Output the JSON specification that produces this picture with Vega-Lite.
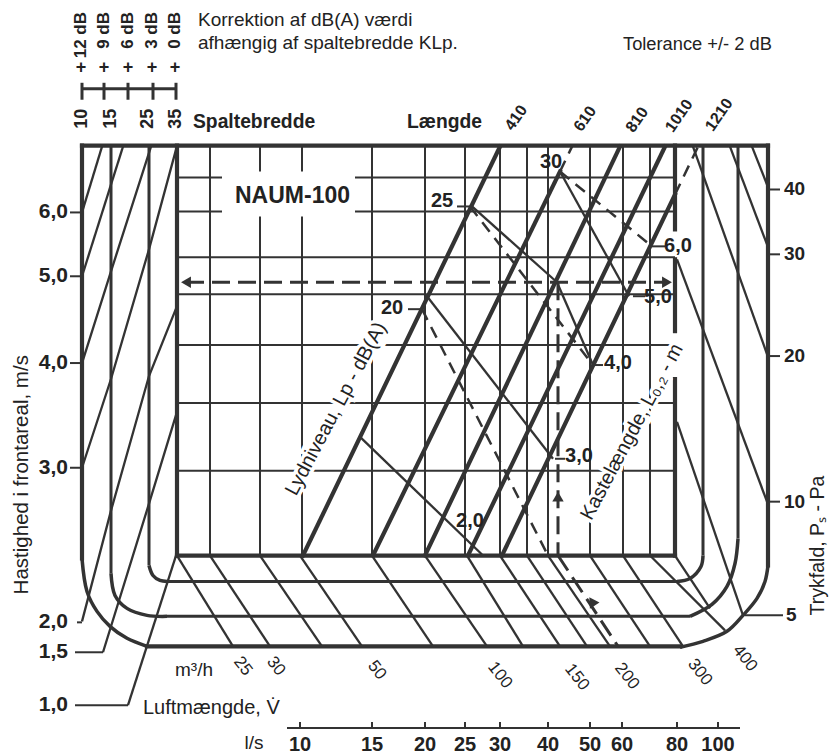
{
"$schema":"https://vega.github.io/schema/vega-lite/v6.json",
"width":837,"height":756,"padding":0,
"autosize":{"type":"fit","contains":"padding"},
"background":"white",
"config":{"view":{"stroke":null},"text":{"font":"Liberation Sans","color":"#222"}},
"encoding":{
 "x":{"field":"x","type":"quantitative","scale":{"domain":[0,83.7],"nice":false,"zero":false},"axis":null},
 "y":{"field":"y","type":"quantitative","scale":{"domain":[0,75.6],"nice":false,"zero":false,"reverse":true},"axis":null}
},
"datasets":{
 "grid":[
  {"x":21.0,"y":14.6,"x2":21.0,"y2":55.7},{"x":26.0,"y":14.6,"x2":26.0,"y2":55.7},{"x":30.2,"y":14.6,"x2":30.2,"y2":55.7},
  {"x":37.2,"y":14.6,"x2":37.2,"y2":55.7},{"x":42.5,"y":14.6,"x2":42.5,"y2":55.7},{"x":46.5,"y":14.6,"x2":46.5,"y2":55.7},
  {"x":50.0,"y":14.6,"x2":50.0,"y2":55.7},{"x":52.7,"y":14.6,"x2":52.7,"y2":55.7},{"x":54.8,"y":14.6,"x2":54.8,"y2":55.7},
  {"x":59.0,"y":14.6,"x2":59.0,"y2":55.7},{"x":62.3,"y":14.6,"x2":62.3,"y2":55.7},{"x":65.0,"y":14.6,"x2":65.0,"y2":55.7},
  {"x":17.7,"y":17.8,"x2":67.5,"y2":17.8},{"x":17.7,"y":21.2,"x2":67.5,"y2":21.2},{"x":17.7,"y":25.8,"x2":67.5,"y2":25.8},
  {"x":17.7,"y":29.5,"x2":67.5,"y2":29.5},{"x":17.7,"y":34.6,"x2":67.5,"y2":34.6},{"x":17.7,"y":40.4,"x2":67.5,"y2":40.4},
  {"x":17.7,"y":47.2,"x2":67.5,"y2":47.2},
  {"x":7.0,"y":21.3,"x2":8.2,"y2":21.3},{"x":7.0,"y":27.7,"x2":8.2,"y2":27.7},{"x":7.0,"y":36.4,"x2":8.2,"y2":36.4},{"x":7.0,"y":46.9,"x2":8.2,"y2":46.9},
  {"x":7.7,"y":62.4,"x2":8.2,"y2":62.4},{"x":7.5,"y":65.4,"x2":10.3,"y2":65.4},{"x":7.5,"y":70.7,"x2":12.8,"y2":70.7},
  {"x":76.8,"y":19.0,"x2":78.0,"y2":19.0},{"x":76.8,"y":25.5,"x2":78.0,"y2":25.5},{"x":76.8,"y":35.7,"x2":78.0,"y2":35.7},{"x":76.8,"y":50.3,"x2":78.0,"y2":50.3},
  {"x":74.5,"y":61.7,"x2":78.3,"y2":61.7},
  {"x":28.7,"y":73.0,"x2":74.0,"y2":73.0},
  {"x":30.0,"y":72.4,"x2":30.0,"y2":73.0},{"x":37.2,"y":72.4,"x2":37.2,"y2":73.0},{"x":42.5,"y":72.4,"x2":42.5,"y2":73.0},
  {"x":46.5,"y":72.4,"x2":46.5,"y2":73.0},{"x":50.0,"y":72.4,"x2":50.0,"y2":73.0},{"x":54.8,"y":72.4,"x2":54.8,"y2":73.0},
  {"x":59.0,"y":72.4,"x2":59.0,"y2":73.0},{"x":62.2,"y":72.4,"x2":62.2,"y2":73.0},{"x":67.7,"y":72.4,"x2":67.7,"y2":73.0},
  {"x":71.8,"y":72.4,"x2":71.8,"y2":73.0},
  {"x":40.8,"y":31.0,"x2":42.2,"y2":31.0},{"x":45.7,"y":20.7,"x2":47.0,"y2":20.7},{"x":65.2,"y":24.7,"x2":66.5,"y2":24.7},
  {"x":63.3,"y":29.7,"x2":64.5,"y2":29.7},{"x":59.3,"y":36.6,"x2":60.3,"y2":36.6},{"x":55.5,"y":46.0,"x2":56.5,"y2":46.0}
 ],
 "band":[
  {"x":17.7,"y":55.7,"x2":23.3,"y2":64.8},{"x":21.0,"y":55.7,"x2":27.0,"y2":64.8},{"x":26.0,"y":55.7,"x2":32.2,"y2":64.8},
  {"x":30.0,"y":55.7,"x2":36.2,"y2":64.8},{"x":37.2,"y":55.7,"x2":43.3,"y2":64.8},{"x":42.5,"y":55.7,"x2":48.7,"y2":64.8},
  {"x":46.7,"y":55.7,"x2":52.3,"y2":64.8},{"x":50.0,"y":55.7,"x2":56.0,"y2":64.8},{"x":52.7,"y":55.7,"x2":58.7,"y2":64.8},
  {"x":54.8,"y":55.7,"x2":61.0,"y2":64.8},{"x":59.0,"y":55.7,"x2":65.0,"y2":64.8},{"x":62.3,"y":55.7,"x2":68.3,"y2":64.8},
  {"x":65.0,"y":55.7,"x2":72.5,"y2":63.2},{"x":67.5,"y":55.7,"x2":71.0,"y2":61.0},
  {"x":69.3,"y":14.7,"x2":76.7,"y2":35.5},{"x":73.0,"y":14.7,"x2":76.7,"y2":24.5},{"x":75.2,"y":14.7,"x2":76.7,"y2":18.5},
  {"x":67.7,"y":26.0,"x2":76.7,"y2":50.3},{"x":67.7,"y":42.3,"x2":74.3,"y2":61.7},
  {"x":36.0,"y":43.8,"x2":48.2,"y2":55.6},{"x":42.7,"y":29.7,"x2":55.3,"y2":46.0},
  {"x":47.2,"y":20.7,"x2":55.7,"y2":28.3},{"x":55.7,"y":28.3,"x2":59.3,"y2":36.6},
  {"x":56.0,"y":17.2,"x2":62.9,"y2":29.7}
 ],
 "mid":[
  {"x":11.1,"y":14.6,"x2":11.1,"y2":57.5},{"x":14.9,"y":14.6,"x2":14.9,"y2":56.7},
  {"x":70.3,"y":14.6,"x2":70.3,"y2":55.7},{"x":73.8,"y":14.6,"x2":73.8,"y2":54.0},
  {"x":16.7,"y":58.3,"x2":67.7,"y2":58.3},{"x":16.7,"y":61.8,"x2":69.0,"y2":61.8},
  {"x":8.2,"y":8.9,"x2":17.7,"y2":8.9},
  {"x":8.2,"y":8.3,"x2":8.2,"y2":10.0},{"x":10.4,"y":8.3,"x2":10.4,"y2":10.0},{"x":12.8,"y":8.3,"x2":12.8,"y2":10.0},
  {"x":15.3,"y":8.3,"x2":15.3,"y2":10.0},{"x":17.6,"y":8.3,"x2":17.6,"y2":10.0}
 ],
 "frame":[
  {"x":8.2,"y":14.6,"x2":76.8,"y2":14.6},{"x":8.2,"y":14.6,"x2":8.2,"y2":56.0},{"x":14.7,"y":64.8,"x2":68.0,"y2":64.8},
  {"x":76.8,"y":14.6,"x2":76.8,"y2":56.7},{"x":17.7,"y":14.6,"x2":17.7,"y2":55.7},{"x":17.7,"y":55.7,"x2":67.5,"y2":55.7},
  {"x":67.5,"y":14.6,"x2":67.5,"y2":23.0},{"x":67.5,"y":26.0,"x2":67.5,"y2":33.2},{"x":67.5,"y":38.0,"x2":67.5,"y2":55.7},
  {"x":30.3,"y":55.7,"x2":50.0,"y2":14.7},{"x":37.3,"y":55.7,"x2":56.0,"y2":17.2},{"x":42.5,"y":55.7,"x2":62.0,"y2":14.7},
  {"x":46.8,"y":55.7,"x2":66.5,"y2":14.7},{"x":50.2,"y":55.7,"x2":67.5,"y2":19.5}
 ],
 "curves":[
  {"id":"a","i":0,"x":8.2,"y":56.0},{"id":"a","i":1,"x":8.7,"y":59.3},{"id":"a","i":2,"x":9.7,"y":61.3},{"id":"a","i":3,"x":11.0,"y":62.8},{"id":"a","i":4,"x":12.7,"y":64.0},{"id":"a","i":5,"x":14.7,"y":64.8},
  {"id":"b","i":0,"x":68.0,"y":64.9},{"id":"b","i":1,"x":70.3,"y":64.3},{"id":"b","i":2,"x":72.7,"y":63.3},{"id":"b","i":3,"x":74.3,"y":61.7},{"id":"b","i":4,"x":75.7,"y":60.0},{"id":"b","i":5,"x":76.5,"y":58.3},{"id":"b","i":6,"x":76.8,"y":56.7},
  {"id":"c","i":0,"x":11.1,"y":57.5},{"id":"c","i":1,"x":11.5,"y":59.7},{"id":"c","i":2,"x":12.7,"y":61.0},{"id":"c","i":3,"x":14.7,"y":61.7},{"id":"c","i":4,"x":16.7,"y":61.8},
  {"id":"d","i":0,"x":14.9,"y":56.7},{"id":"d","i":1,"x":15.3,"y":57.7},{"id":"d","i":2,"x":16.0,"y":58.2},{"id":"d","i":3,"x":16.7,"y":58.3},
  {"id":"e","i":0,"x":70.3,"y":55.7},{"id":"e","i":1,"x":70.1,"y":56.8},{"id":"e","i":2,"x":69.0,"y":58.0},{"id":"e","i":3,"x":67.7,"y":58.3},
  {"id":"f","i":0,"x":73.8,"y":54.0},{"id":"f","i":1,"x":73.5,"y":56.5},{"id":"f","i":2,"x":72.7,"y":58.8},{"id":"f","i":3,"x":71.2,"y":60.6},{"id":"f","i":4,"x":69.0,"y":61.8}
 ],
 "vel":[
  {"id":"v6","i":0,"x":8.2,"y":21.3},{"id":"v6","i":1,"x":10.2,"y":14.7},
  {"id":"v5","i":0,"x":8.2,"y":27.7},{"id":"v5","i":1,"x":12.3,"y":14.7},
  {"id":"v4","i":0,"x":8.2,"y":36.4},{"id":"v4","i":1,"x":11.1,"y":27.2},{"id":"v4","i":2,"x":15.1,"y":14.7},
  {"id":"v3","i":0,"x":8.2,"y":46.9},{"id":"v3","i":1,"x":11.1,"y":38.0},{"id":"v3","i":2,"x":14.9,"y":25.0},{"id":"v3","i":3,"x":17.6,"y":15.0},
  {"id":"v2","i":0,"x":8.2,"y":62.3},{"id":"v2","i":1,"x":11.1,"y":51.2},{"id":"v2","i":2,"x":14.9,"y":37.7},{"id":"v2","i":3,"x":17.7,"y":30.7},
  {"id":"v15","i":0,"x":10.3,"y":65.4},{"id":"v15","i":1,"x":14.9,"y":50.5},{"id":"v15","i":2,"x":17.7,"y":41.3},
  {"id":"v1","i":0,"x":12.8,"y":70.7},{"id":"v1","i":1,"x":17.6,"y":55.7}
 ],
 "dsh":[
  {"x":42.2,"y":31.0,"x2":54.8,"y2":55.7},{"x":47.0,"y":20.7,"x2":59.3,"y2":36.6},{"x":56.0,"y":17.2,"x2":65.2,"y2":24.7},
  {"x":56.0,"y":17.2,"x2":57.2,"y2":14.7},{"x":67.5,"y":19.5,"x2":69.8,"y2":14.7}
 ],
 "flow":[
  {"x":18.6,"y":28.3,"x2":66.8,"y2":28.3},{"x":55.8,"y":28.3,"x2":55.8,"y2":55.7},{"x":55.8,"y":55.7,"x2":61.8,"y2":64.8}
 ],
 "arrL":[{"x":18.6,"y":28.3}],
 "arrR":[{"x":66.7,"y":28.3}],
 "arrU":[{"x":55.8,"y":49.8}],
 "arrD":[{"x":59.2,"y":60.3}],
 "mask":[{"x":22.2,"x2":35.5,"y":17.2,"y2":21.7}],
 "tReg":[
  {"x":19.8,"y":2.0,"t":"Korrektion af dB(A) værdi"},
  {"x":19.8,"y":4.3,"t":"afhængig af spaltebredde KLp."}
 ],
 "tTol":[{"x":62.3,"y":4.5,"t":"Tolerance +/- 2 dB"}],
 "tLuft":[{"x":14.3,"y":71.0,"t":"Luftmængde, V̇"}],
 "tHead":[
  {"x":19.3,"y":12.2,"t":"Spaltebredde"},
  {"x":40.7,"y":12.2,"t":"Længde"}
 ],
 "tNaum":[{"x":23.5,"y":19.7,"t":"NAUM-100"}],
 "tLeft":[
  {"x":6.8,"y":21.3,"t":"6,0"},{"x":6.8,"y":27.7,"t":"5,0"},{"x":6.8,"y":36.4,"t":"4,0"},{"x":6.8,"y":46.9,"t":"3,0"},
  {"x":6.8,"y":62.4,"t":"2,0"},{"x":6.8,"y":65.4,"t":"1,5"},{"x":6.8,"y":70.7,"t":"1,0"}
 ],
 "tRight":[
  {"x":78.4,"y":19.0,"t":"40"},{"x":78.4,"y":25.5,"t":"30"},{"x":78.4,"y":35.7,"t":"20"},{"x":78.4,"y":50.3,"t":"10"},{"x":78.6,"y":61.7,"t":"5"}
 ],
 "tBottom":[
  {"x":30.0,"y":74.7,"t":"10"},{"x":37.2,"y":74.7,"t":"15"},{"x":42.5,"y":74.7,"t":"20"},{"x":46.5,"y":74.7,"t":"25"},
  {"x":50.0,"y":74.7,"t":"30"},{"x":54.8,"y":74.7,"t":"40"},{"x":59.0,"y":74.7,"t":"50"},{"x":62.2,"y":74.7,"t":"60"},
  {"x":67.7,"y":74.7,"t":"80"},{"x":71.8,"y":74.7,"t":"100"}
 ],
 "tUnits":[{"x":19.4,"y":67.2,"t":"m³/h"},{"x":25.4,"y":74.5,"t":"l/s"}],
 "tDb":[
  {"x":8.1,"y":1.2,"t":"12 dB"},{"x":10.4,"y":1.2,"t":"9 dB"},{"x":12.8,"y":1.2,"t":"6 dB"},{"x":15.2,"y":1.2,"t":"3 dB"},{"x":17.5,"y":1.2,"t":"0 dB"}
 ],
 "tPlus":[
  {"x":8.1,"y":6.8,"t":"+"},{"x":10.4,"y":6.8,"t":"+"},{"x":12.8,"y":6.8,"t":"+"},{"x":15.2,"y":6.8,"t":"+"},{"x":17.5,"y":6.8,"t":"+"}
 ],
 "tSlot":[
  {"x":8.2,"y":11.9,"t":"10"},{"x":11.1,"y":11.9,"t":"15"},{"x":14.8,"y":11.9,"t":"25"},{"x":17.6,"y":11.9,"t":"35"}
 ],
 "tLen":[
  {"x":51.6,"y":11.8,"t":"410"},{"x":58.5,"y":11.9,"t":"610"},{"x":63.7,"y":12.0,"t":"810"},{"x":67.9,"y":11.6,"t":"1010"},{"x":71.9,"y":11.5,"t":"1210"}
 ],
 "tScale":[
  {"x":39.2,"y":30.9,"t":"20"},{"x":44.2,"y":20.2,"t":"25"},{"x":55.1,"y":16.2,"t":"30"},
  {"x":47.0,"y":52.2,"t":"2,0"},{"x":57.9,"y":45.7,"t":"3,0"},{"x":61.8,"y":36.4,"t":"4,0"},{"x":65.8,"y":29.8,"t":"5,0"},{"x":67.8,"y":24.7,"t":"6,0"}
 ],
 "tVertA":[{"x":2.2,"y":47.6,"t":"Hastighed i frontareal, m/s"}],
 "tVertB":[{"x":81.8,"y":54.7,"t":"Trykfald, Pₛ - Pa"}],
 "tSlant":[
  {"x":33.6,"y":41.0,"t":"Lydniveau, Lp - dB(A)"},
  {"x":63.2,"y":43.3,"t":"Kastelængde, L₀,₂ - m"}
 ],
 "tFlow":[
  {"x":24.3,"y":66.8,"t":"25"},{"x":27.6,"y":66.8,"t":"30"},{"x":37.7,"y":67.2,"t":"50"},{"x":50.0,"y":67.7,"t":"100"},
  {"x":57.7,"y":67.9,"t":"150"},{"x":62.7,"y":67.8,"t":"200"},{"x":70.0,"y":67.4,"t":"300"},{"x":74.5,"y":66.0,"t":"400"}
 ]
},
"layer":[
 {"data":{"name":"grid"},"mark":{"type":"rule","color":"#333","strokeWidth":2},"encoding":{"x2":{"field":"x2"},"y2":{"field":"y2"}}},
 {"data":{"name":"mask"},"mark":{"type":"rect","color":"white"},"encoding":{"x2":{"field":"x2"},"y2":{"field":"y2"}}},
 {"data":{"name":"band"},"mark":{"type":"rule","color":"#333","strokeWidth":2.3},"encoding":{"x2":{"field":"x2"},"y2":{"field":"y2"}}},
 {"data":{"name":"vel"},"mark":{"type":"line","color":"#333","strokeWidth":2.3},"encoding":{"detail":{"field":"id"},"order":{"field":"i"}}},
 {"data":{"name":"dsh"},"mark":{"type":"rule","color":"#333","strokeWidth":2.5,"strokeDash":[12,8]},"encoding":{"x2":{"field":"x2"},"y2":{"field":"y2"}}},
 {"data":{"name":"flow"},"mark":{"type":"rule","color":"#333","strokeWidth":3,"strokeDash":[18,8]},"encoding":{"x2":{"field":"x2"},"y2":{"field":"y2"}}},
 {"data":{"name":"mid"},"mark":{"type":"rule","color":"#333","strokeWidth":3},"encoding":{"x2":{"field":"x2"},"y2":{"field":"y2"}}},
 {"data":{"name":"curves"},"mark":{"type":"line","color":"#333","strokeWidth":3.5,"interpolate":"catmull-rom"},"encoding":{"detail":{"field":"id"},"order":{"field":"i"}}},
 {"data":{"name":"frame"},"mark":{"type":"rule","color":"#333","strokeWidth":4.2,"strokeCap":"square"},"encoding":{"x2":{"field":"x2"},"y2":{"field":"y2"}}},
 {"data":{"name":"arrL"},"mark":{"type":"point","shape":"triangle-left","size":130,"filled":true,"color":"#333","opacity":1}},
 {"data":{"name":"arrR"},"mark":{"type":"point","shape":"triangle-right","size":130,"filled":true,"color":"#333","opacity":1}},
 {"data":{"name":"arrU"},"mark":{"type":"point","shape":"triangle-up","size":130,"filled":true,"color":"#333","opacity":1}},
 {"data":{"name":"arrD"},"mark":{"type":"point","shape":"triangle-up","angle":-33,"size":130,"filled":true,"color":"#333","opacity":1}},
 {"data":{"name":"tReg"},"mark":{"type":"text","fontSize":19,"align":"left","baseline":"middle"},"encoding":{"text":{"field":"t"}}},
 {"data":{"name":"tTol"},"mark":{"type":"text","fontSize":18.3,"align":"left","baseline":"middle"},"encoding":{"text":{"field":"t"}}},
 {"data":{"name":"tLuft"},"mark":{"type":"text","fontSize":20,"align":"left","baseline":"middle"},"encoding":{"text":{"field":"t"}}},
 {"data":{"name":"tHead"},"mark":{"type":"text","fontSize":19.3,"fontWeight":"bold","align":"left","baseline":"middle"},"encoding":{"text":{"field":"t"}}},
 {"data":{"name":"tNaum"},"mark":{"type":"text","fontSize":23,"fontWeight":"bold","align":"left","baseline":"middle"},"encoding":{"text":{"field":"t"}}},
 {"data":{"name":"tLeft"},"mark":{"type":"text","fontSize":21,"fontWeight":"bold","align":"right","baseline":"middle"},"encoding":{"text":{"field":"t"}}},
 {"data":{"name":"tRight"},"mark":{"type":"text","fontSize":19,"fontWeight":"bold","align":"left","baseline":"middle"},"encoding":{"text":{"field":"t"}}},
 {"data":{"name":"tBottom"},"mark":{"type":"text","fontSize":20,"fontWeight":"bold","align":"center","baseline":"middle"},"encoding":{"text":{"field":"t"}}},
 {"data":{"name":"tUnits"},"mark":{"type":"text","fontSize":19,"align":"center","baseline":"middle"},"encoding":{"text":{"field":"t"}}},
 {"data":{"name":"tDb"},"mark":{"type":"text","fontSize":17,"fontWeight":"bold","align":"right","baseline":"middle","angle":270},"encoding":{"text":{"field":"t"}}},
 {"data":{"name":"tPlus"},"mark":{"type":"text","fontSize":18,"fontWeight":"bold","align":"center","baseline":"middle"},"encoding":{"text":{"field":"t"}}},
 {"data":{"name":"tSlot"},"mark":{"type":"text","fontSize":18,"fontWeight":"bold","align":"center","baseline":"middle","angle":270},"encoding":{"text":{"field":"t"}}},
 {"data":{"name":"tLen"},"mark":{"type":"text","fontSize":16,"fontWeight":"bold","align":"center","baseline":"middle","angle":305},"encoding":{"text":{"field":"t"}}},
 {"data":{"name":"tScale"},"mark":{"type":"text","fontSize":20,"fontWeight":"bold","align":"center","baseline":"middle"},"encoding":{"text":{"field":"t"}}},
 {"data":{"name":"tVertA"},"mark":{"type":"text","fontSize":20.5,"align":"center","baseline":"middle","angle":270},"encoding":{"text":{"field":"t"}}},
 {"data":{"name":"tVertB"},"mark":{"type":"text","fontSize":19.5,"align":"center","baseline":"middle","angle":270},"encoding":{"text":{"field":"t"}}},
 {"data":{"name":"tSlant"},"mark":{"type":"text","fontSize":20,"align":"center","baseline":"middle","angle":298,"stroke":"white","strokeWidth":7},"encoding":{"text":{"field":"t"}}},
 {"data":{"name":"tSlant"},"mark":{"type":"text","fontSize":20,"align":"center","baseline":"middle","angle":298},"encoding":{"text":{"field":"t"}}},
 {"data":{"name":"tFlow"},"mark":{"type":"text","fontSize":17,"align":"center","baseline":"middle","angle":52},"encoding":{"text":{"field":"t"}}}
]
}
